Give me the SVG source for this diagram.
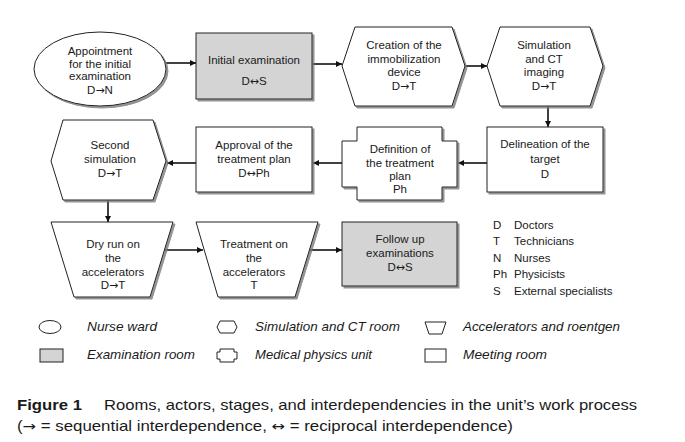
<svg xmlns="http://www.w3.org/2000/svg" width="685" height="442" viewBox="0 0 685 442">
<style>
text{font-family:"Liberation Sans",Arial,sans-serif;fill:#1a1a1a}
.t{font-size:11.5px;text-anchor:middle}
.shape{fill:#fff;stroke:#222;stroke-width:1;filter:url(#sh)}
.conn{stroke:#111;stroke-width:1.6;fill:none;marker-end:url(#ah)}
.lg{font-size:13px;font-style:italic}
.ic{fill:#fff;stroke:#222;stroke-width:1}
.gray{fill:#d4d4d4}
.ar{font-family:"DejaVu Sans",sans-serif;font-size:0.95em}
.key{font-size:11.5px}
.cap{font-size:14.5px}
</style>
<defs>
<marker id="ah" markerUnits="userSpaceOnUse" markerWidth="7" markerHeight="7" refX="6" refY="3" orient="auto">
<path d="M0,0 L6,3 L0,6 z" fill="#111"/>
</marker>
<filter id="sh" x="-10%" y="-10%" width="130%" height="130%">
<feDropShadow dx="2" dy="2" stdDeviation="0.7" flood-color="#777" flood-opacity="0.8"/>
</filter>
</defs>

<g id="connectors">
<line class="conn" x1="166" y1="63" x2="196" y2="63"/>
<line class="conn" x1="312" y1="64" x2="342" y2="64"/>
<line class="conn" x1="465" y1="66" x2="487" y2="66"/>
<line class="conn" x1="548" y1="106" x2="548" y2="127"/>
<line class="conn" x1="487" y1="163" x2="458" y2="163"/>
<line class="conn" x1="342" y1="163" x2="313" y2="163"/>
<line class="conn" x1="196" y1="163" x2="167" y2="163"/>
<line class="conn" x1="108" y1="200" x2="108" y2="222"/>
<line class="conn" x1="165" y1="250" x2="203" y2="250"/>
<line class="conn" x1="310" y1="250" x2="342" y2="250"/>
</g>

<g id="n-appointment">
<ellipse class="shape" cx="100" cy="69" rx="66" ry="37"/>
<text class="t" x="100" y="55">Appointment</text>
<text class="t" x="100" y="67.5">for the initial</text>
<text class="t" x="100" y="80">examination</text>
<text class="t" x="100" y="94">D<tspan class="ar">→</tspan>N</text>
</g>

<g id="n-initial">
<rect class="shape gray" x="196" y="33" width="116" height="66"/>
<text class="t" x="254" y="63.5">Initial examination</text>
<text class="t" x="254" y="85">D<tspan class="ar">↔</tspan>S</text>
</g>

<g id="n-creation">
<polygon class="shape" points="342,66 355,27 452,27 465,66 452,106 355,106"/>
<text class="t" x="404" y="49">Creation of the</text>
<text class="t" x="404" y="63">immobilization</text>
<text class="t" x="404" y="76">device</text>
<text class="t" x="404" y="90">D<tspan class="ar">→</tspan>T</text>
</g>

<g id="n-simulation">
<polygon class="shape" points="487,66 500,27 590,27 603,66 590,106 500,106"/>
<text class="t" x="544" y="49">Simulation</text>
<text class="t" x="544" y="63">and CT</text>
<text class="t" x="544" y="76">imaging</text>
<text class="t" x="544" y="90">D<tspan class="ar">→</tspan>T</text>
</g>

<g id="n-delineation">
<rect class="shape" x="487" y="127" width="116" height="65"/>
<text class="t" x="545" y="148">Delineation of the</text>
<text class="t" x="545" y="163">target</text>
<text class="t" x="545" y="178">D</text>
</g>

<g id="n-definition">
<polygon class="shape" points="357,127 442,127 442,141 457,141 457,187 442,187 442,200 357,200 357,187 342,187 342,141 357,141"/>
<text class="t" x="400" y="153">Definition of</text>
<text class="t" x="400" y="167">the treatment</text>
<text class="t" x="400" y="180">plan</text>
<text class="t" x="400" y="193">Ph</text>
</g>

<g id="n-approval">
<rect class="shape" x="196" y="127" width="116" height="65"/>
<text class="t" x="254" y="149">Approval of the</text>
<text class="t" x="254" y="163">treatment plan</text>
<text class="t" x="254" y="177">D<tspan class="ar">↔</tspan>Ph</text>
</g>

<g id="n-second">
<polygon class="shape" points="51,161 63,120 153,120 166,161 153,200 63,200"/>
<text class="t" x="110" y="149">Second</text>
<text class="t" x="110" y="163">simulation</text>
<text class="t" x="110" y="177">D<tspan class="ar">→</tspan>T</text>
</g>

<g id="n-dryrun">
<polygon class="shape" points="51,222 173,222 150,297 74,297"/>
<text class="t" x="113" y="248">Dry run on</text>
<text class="t" x="113" y="262">the</text>
<text class="t" x="113" y="276">accelerators</text>
<text class="t" x="113" y="289">D<tspan class="ar">→</tspan>T</text>
</g>

<g id="n-treatment">
<polygon class="shape" points="196,222 318,222 295,297 218,297"/>
<text class="t" x="254" y="248">Treatment on</text>
<text class="t" x="254" y="262">the</text>
<text class="t" x="254" y="276">accelerators</text>
<text class="t" x="254" y="289">T</text>
</g>

<g id="n-followup">
<rect class="shape gray" x="342" y="222" width="115" height="64"/>
<text class="t" x="400" y="243">Follow up</text>
<text class="t" x="400" y="257">examinations</text>
<text class="t" x="400" y="271">D<tspan class="ar">↔</tspan>S</text>
</g>

<g id="actors">
<text class="key" x="493" y="229">D</text><text class="key" x="514" y="229">Doctors</text>
<text class="key" x="493" y="245">T</text><text class="key" x="514" y="245">Technicians</text>
<text class="key" x="493" y="262">N</text><text class="key" x="514" y="262">Nurses</text>
<text class="key" x="493" y="278">Ph</text><text class="key" x="514" y="278">Physicists</text>
<text class="key" x="493" y="295">S</text><text class="key" x="514" y="295">External specialists</text>
</g>

<g id="legend">
<ellipse class="ic" cx="50" cy="327" rx="11" ry="6.5"/>
<text class="lg" x="87" y="331" textLength="70" lengthAdjust="spacingAndGlyphs">Nurse ward</text>
<polygon class="ic" points="217,327 220,321 234,321 237,327 234,333 220,333"/>
<text class="lg" x="255" y="331" textLength="145" lengthAdjust="spacingAndGlyphs">Simulation and CT room</text>
<polygon class="ic" points="425,322 446,322 442,334 429,334"/>
<text class="lg" x="463" y="331" textLength="157" lengthAdjust="spacingAndGlyphs">Accelerators and roentgen</text>
<rect class="ic gray" x="40" y="349" width="23" height="13"/>
<text class="lg" x="87" y="359" textLength="108" lengthAdjust="spacingAndGlyphs">Examination room</text>
<polygon class="ic" points="220,349 234,349 234,352 237,352 237,359 234,359 234,362 220,362 220,359 217,359 217,352 220,352"/>
<text class="lg" x="255" y="359" textLength="117" lengthAdjust="spacingAndGlyphs">Medical physics unit</text>
<rect class="ic" x="425" y="349" width="21" height="13"/>
<text class="lg" x="463" y="359" textLength="84" lengthAdjust="spacingAndGlyphs">Meeting room</text>
</g>

<g id="caption">
<text class="cap" x="17" y="410"><tspan font-weight="bold" textLength="65" lengthAdjust="spacingAndGlyphs">Figure 1</tspan></text>
<text class="cap" x="104" y="410" textLength="533" lengthAdjust="spacingAndGlyphs">Rooms, actors, stages, and interdependencies in the unit’s work process</text>
<text class="cap" x="17" y="431" textLength="496" lengthAdjust="spacingAndGlyphs">(<tspan class="ar">→</tspan> = sequential interdependence, <tspan class="ar">↔</tspan> = reciprocal interdependence)</text>
</g>
</svg>
